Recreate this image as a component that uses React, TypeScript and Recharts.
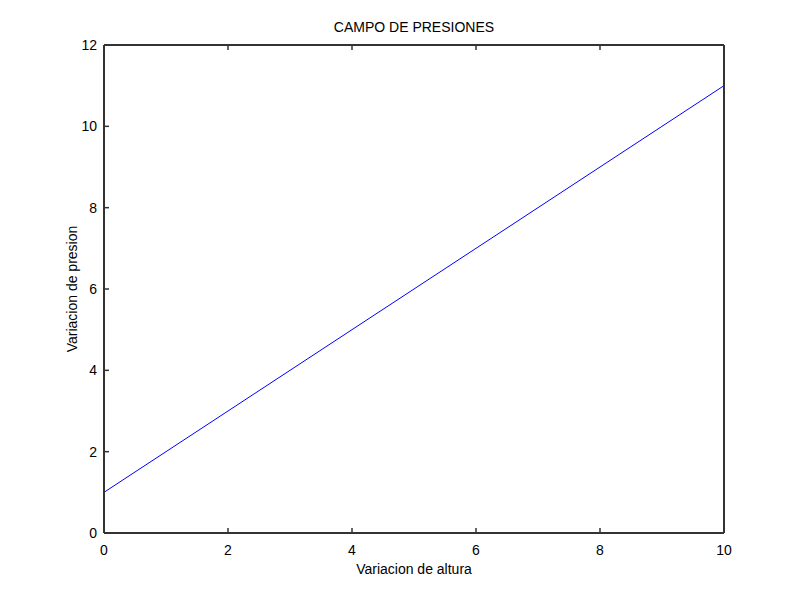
import { LineChart, Line, XAxis, YAxis } from "recharts";

const alturas = [0, 1, 2, 3, 4, 5, 6, 7, 8, 9, 10];
const presiones = [1, 2, 3, 4, 5, 6, 7, 8, 9, 10, 11];
const xTicks = [0, 2, 4, 6, 8, 10];
const yTicks = [0, 2, 4, 6, 8, 10, 12];

const data = alturas.map((h, i) => ({ altura: h, presion: presiones[i] }));

const FONT = "'Liberation Sans', Arial, Helvetica, sans-serif";
const AXIS = "#333333";
const tickStyle = { fontSize: 14, fill: "#000", fontFamily: FONT };
const noLabel = () => "";

export default function App() {
  return (
    <div style={{ position: "absolute", left: 0, top: 0, width: 800, height: 600, background: "#fff" }}>
      <div
        style={{
          position: "absolute",
          left: 104,
          width: 620,
          top: 19,
          textAlign: "center",
          fontFamily: FONT,
          fontSize: 14,
          color: "#000",
        }}
      >
        CAMPO DE PRESIONES
      </div>
      <LineChart width={800} height={600} data={data} margin={{ top: 44, right: 75, bottom: 0, left: 40 }}>
        <XAxis
          xAxisId="bottom"
          dataKey="altura"
          type="number"
          domain={[0, 10]}
          ticks={xTicks}
          height={67}
          tickSize={-5}
          tickMargin={17}
          tick={tickStyle}
          stroke={AXIS}
          axisLine={{ stroke: AXIS, strokeWidth: 2 }}
          tickLine={{ stroke: AXIS, strokeWidth: 1.5 }}
          label={{ value: "Variacion de altura", position: "insideBottom", offset: 26, fontSize: 14, fill: "#000", fontFamily: FONT }}
        />
        <XAxis
          xAxisId="top"
          orientation="top"
          dataKey="altura"
          type="number"
          domain={[0, 10]}
          ticks={xTicks}
          height={1}
          tickSize={-5}
          tickFormatter={noLabel}
          stroke={AXIS}
          axisLine={{ stroke: AXIS, strokeWidth: 2 }}
          tickLine={{ stroke: AXIS, strokeWidth: 1.5 }}
        />
        <YAxis
          yAxisId="left"
          type="number"
          domain={[0, 12]}
          ticks={yTicks}
          width={64}
          tickSize={-5}
          tickMargin={12}
          tick={tickStyle}
          stroke={AXIS}
          axisLine={{ stroke: AXIS, strokeWidth: 2 }}
          tickLine={{ stroke: AXIS, strokeWidth: 1.5 }}
          label={{ value: "Variacion de presion", angle: -90, position: "center", fontSize: 14, fill: "#000", fontFamily: FONT }}
        />
        <YAxis
          yAxisId="right"
          orientation="right"
          type="number"
          domain={[0, 12]}
          ticks={yTicks}
          width={1}
          tickSize={-5}
          tickFormatter={noLabel}
          stroke={AXIS}
          axisLine={{ stroke: AXIS, strokeWidth: 2 }}
          tickLine={{ stroke: AXIS, strokeWidth: 1.5 }}
        />
        <Line
          xAxisId="bottom"
          yAxisId="left"
          type="linear"
          dataKey="presion"
          stroke="#0000ff"
          strokeWidth={1}
          dot={false}
          isAnimationActive={false}
        />
      </LineChart>
    </div>
  );
}
